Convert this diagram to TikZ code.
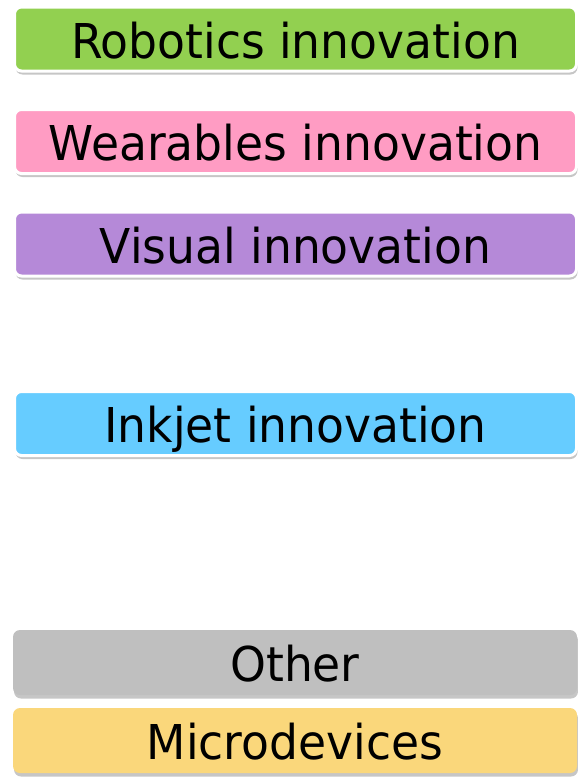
\documentclass[tikz,border=0pt]{standalone}
\usepackage{xcolor}
\usepackage{fontspec}
\setmainfont{DejaVu Sans}[FakeStretch=0.95]
\usepackage{tikz}
\usetikzlibrary{shadows}

\definecolor{robogreen}{HTML}{92D050}
\definecolor{wearpink}{HTML}{FF9CC3}
\definecolor{vispurple}{HTML}{B589D8}
\definecolor{inkblue}{HTML}{66CCFF}
\definecolor{othergray}{HTML}{BFBFBF}
\definecolor{microyellow}{HTML}{FAD77B}

\begin{document}
\begin{tikzpicture}[x=1pt,y=-1pt,
    segbox/.style={rounded corners=7pt,inner sep=0pt,
      font=\fontsize{48}{52}\selectfont,text height=38pt,text depth=0pt,
      drop shadow={shadow xshift=1pt,shadow yshift=-3.5pt,opacity=0.45}},
    rimbox/.style={segbox,draw=white,line width=3pt,
      minimum width=562pt,minimum height=64pt},
    flatbox/.style={segbox,minimum width=564pt,minimum height=65pt}]
      \useasboundingbox (0,0) rectangle (578,779);
      \node[rimbox,fill=robogreen] (robotics) at (295.5,39) {Robotics innovation};
      \node[rimbox,fill=wearpink] (wearables) at (295.5,141.5) {Wearables innovation};
      \node[rimbox,fill=vispurple] (visual) at (295.5,244) {Visual innovation};
      \node[rimbox,fill=inkblue] (inkjet) at (295.5,423.5) {Inkjet innovation};
      \node[flatbox,fill=othergray] (other) at (295,662.5) {Other};
      \node[flatbox,fill=microyellow] (micro) at (295,740.5) {Microdevices};
    \end{tikzpicture}
\end{document}
